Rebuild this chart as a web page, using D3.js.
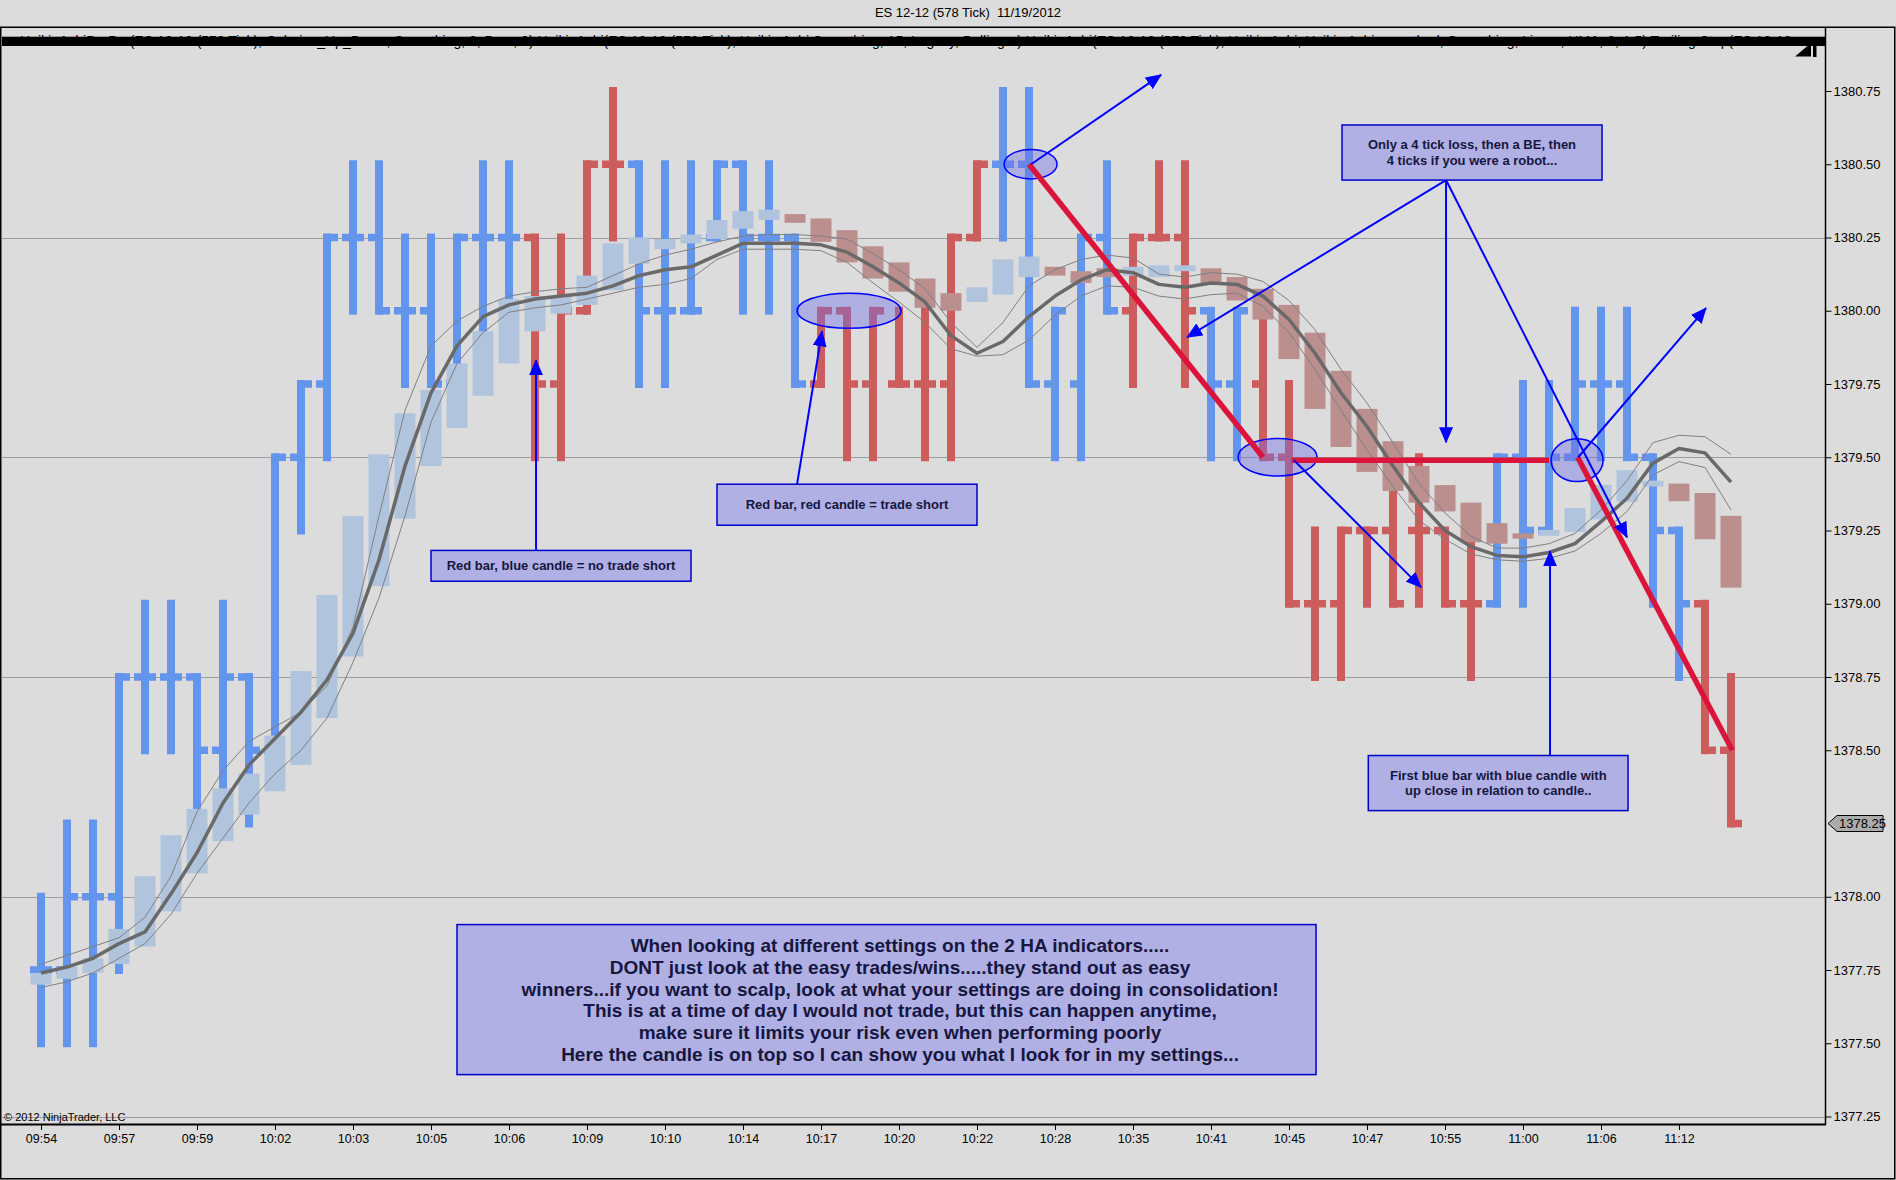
<!DOCTYPE html>
<html>
<head>
<meta charset="utf-8">
<script src="https://cdn.jsdelivr.net/npm/d3@7"></script>
<style>
  body { margin: 0; background: #dcdcdc; }
  svg { display: block; }
  text { font-family: Arial, "Liberation Sans", sans-serif; }
</style>
</head>
<body>
<div id="chart"></div>
<script>
// Dimensions
const WIDTH = 1896;
const HEIGHT = 1180;
const PLOT = { left: 2, top: 28, right: 1825, bottom: 1124 };

// Colours
const BAR_UP = '#6495ed';
const BAR_DOWN = '#cd5c5c';
const CANDLE_UP = '#b0c4de';
const CANDLE_DOWN = '#bc8f8f';
const NOTE_FILL = '#b0b0e4';
const NOTE_STROKE = '#0000cd';
const NOTE_TEXT = '#16163f';

// Chart title
const TITLE = 'ES 12-12 (578 Tick)  11/19/2012';
const INDICATOR_LABEL = 'HeikinAshiBarPro(ES 12-12 (578 Tick), Colorize_Up_Down, Smoothing, 2, Bars, 0) HeikinAshi(ES 12-12 (578 Tick), Heikin Ashi Smoothing, 15, Legacy, Bollinger) HeikinAshi(ES 12-12 (578 Tick), Heikin Ashi, Heikin Ashi smoothed, Smoothing, Linear, HMA, 2, 1.5) Trailing Stop(ES 12-12 (578 Tick))';

// X axis labels, one every third bar
const timeLabels = ['09:54', '09:57', '09:59', '10:02', '10:03', '10:05', '10:06', '10:09', '10:10', '10:14', '10:17',
                    '10:20', '10:22', '10:28', '10:35', '10:41', '10:45', '10:47', '10:55', '11:00', '11:06', '11:12'];
const labelBars = [0, 3, 6, 9, 12, 15, 18, 21, 24, 27, 30, 33, 36, 39, 42, 45, 48, 51, 54, 57, 60, 63];

// Price axis
const priceTicks = [1377.25, 1377.50, 1377.75, 1378.00, 1378.25, 1378.50, 1378.75,
                    1379.00, 1379.25, 1379.50, 1379.75, 1380.00, 1380.25, 1380.50, 1380.75];
const gridPrices = [1377.25, 1378.00, 1378.75, 1379.50, 1380.25];

// HA bars (B = blue, R = red)
const barDir = [
  'B', 'B', 'B', 'B', 'B', 'B', 'B', 'B', 'B', 'B', 'B',
  'B', 'B', 'B', 'B', 'B', 'B', 'B', 'B', 'R', 'R', 'R',
  'R', 'B', 'B', 'B', 'B', 'B', 'B', 'B', 'R', 'R', 'R',
  'R', 'R', 'R', 'R', 'B', 'B', 'B', 'B', 'B', 'R', 'R',
  'R', 'B', 'B', 'R', 'R', 'R', 'R', 'R', 'R', 'R', 'R',
  'R', 'B', 'B', 'B', 'B', 'B', 'B', 'B', 'B', 'R', 'R'
];
const barOpen = [
  1377.75, 1377.75, 1378.00, 1378.00, 1378.75, 1378.75, 1378.75, 1378.50, 1378.75, 1378.50, 1379.50,
  1379.75, 1380.25, 1380.25, 1380.00, 1380.00, 1379.75, 1380.25, 1380.25, 1380.25, 1379.75, 1380.00,
  1380.50, 1380.50, 1380.00, 1380.00, 1380.25, 1380.50, 1380.25, 1380.25, 1379.75, 1380.00, 1379.75,
  1379.75, 1379.75, 1379.75, 1380.25, 1380.50, 1380.50, 1379.75, 1379.75, 1380.25, 1380.00, 1380.25,
  1380.25, 1380.00, 1379.75, 1379.75, 1379.50, 1379.00, 1379.00, 1379.25, 1379.25, 1379.25, 1379.25,
  1379.00, 1379.00, 1379.50, 1379.25, 1379.50, 1379.75, 1379.75, 1379.50, 1379.25, 1379.00, 1378.50
];
const barHigh = [
  1378.00, 1378.25, 1378.25, 1378.75, 1379.00, 1379.00, 1378.75, 1379.00, 1378.75, 1379.50, 1379.75,
  1380.25, 1380.50, 1380.50, 1380.25, 1380.25, 1380.25, 1380.50, 1380.50, 1380.25, 1380.25, 1380.50,
  1380.75, 1380.50, 1380.50, 1380.50, 1380.50, 1380.50, 1380.50, 1380.25, 1380.00, 1380.00, 1380.00,
  1380.00, 1380.00, 1380.25, 1380.50, 1380.75, 1380.75, 1380.00, 1380.25, 1380.50, 1380.25, 1380.50,
  1380.50, 1380.00, 1380.00, 1380.00, 1379.75, 1379.25, 1379.25, 1379.25, 1379.50, 1379.50, 1379.25,
  1379.25, 1379.50, 1379.75, 1379.75, 1380.00, 1380.00, 1380.00, 1379.50, 1379.25, 1379.00, 1378.75
];
const barLow = [
  1377.50, 1377.50, 1377.50, 1377.75, 1378.50, 1378.50, 1378.25, 1378.25, 1378.25, 1378.50, 1379.25,
  1379.50, 1380.00, 1380.00, 1379.75, 1379.75, 1379.75, 1379.75, 1380.00, 1379.50, 1379.50, 1380.00,
  1380.25, 1379.75, 1379.75, 1380.00, 1380.25, 1380.00, 1380.00, 1379.75, 1379.75, 1379.50, 1379.50,
  1379.75, 1379.50, 1379.50, 1380.25, 1380.25, 1379.75, 1379.50, 1379.50, 1380.00, 1379.75, 1380.25,
  1379.75, 1379.50, 1379.50, 1379.50, 1379.00, 1378.75, 1378.75, 1379.00, 1379.00, 1379.00, 1379.00,
  1378.75, 1379.00, 1379.00, 1379.25, 1379.50, 1379.50, 1379.50, 1379.00, 1378.75, 1378.50, 1378.25
];
const barClose = [
  1377.75, 1378.00, 1378.00, 1378.75, 1378.75, 1378.75, 1378.50, 1378.75, 1378.50, 1379.50, 1379.75,
  1380.25, 1380.25, 1380.00, 1380.00, 1379.75, 1380.25, 1380.25, 1380.25, 1379.75, 1380.00, 1380.50,
  1380.50, 1380.00, 1380.00, 1380.00, 1380.50, 1380.25, 1380.25, 1379.75, 1380.00, 1379.75, 1380.00,
  1379.75, 1379.75, 1380.25, 1380.50, 1380.50, 1379.75, 1380.00, 1380.25, 1380.00, 1380.25, 1380.25,
  1380.00, 1379.75, 1380.00, 1379.50, 1379.00, 1379.00, 1379.25, 1379.25, 1379.00, 1379.25, 1379.00,
  1379.00, 1379.50, 1379.25, 1379.50, 1379.75, 1379.75, 1379.50, 1379.25, 1379.00, 1378.50, 1378.25
];

// HA candles
const candleOpen = [
  1377.70, 1377.72, 1377.74, 1377.77, 1377.83, 1377.95, 1378.08, 1378.19, 1378.28, 1378.36, 1378.45,
  1378.61, 1378.82, 1379.06, 1379.29, 1379.47, 1379.60, 1379.71, 1379.82, 1379.93, 1379.99, 1380.02,
  1380.07, 1380.16, 1380.21, 1380.23, 1380.245, 1380.28, 1380.31, 1380.33, 1380.315, 1380.275, 1380.22,
  1380.165, 1380.11, 1380.06, 1380.03, 1380.055, 1380.115, 1380.15, 1380.135, 1380.145, 1380.12, 1380.115,
  1380.135, 1380.145, 1380.115, 1380.075, 1380.02, 1379.925, 1379.795, 1379.665, 1379.555, 1379.47, 1379.405,
  1379.345, 1379.275, 1379.24, 1379.232, 1379.245, 1379.288, 1379.348, 1379.40, 1379.41, 1379.378, 1379.30
];
const candleClose = [
  1377.74, 1377.76, 1377.79, 1377.89, 1378.07, 1378.21, 1378.30, 1378.37, 1378.42, 1378.55, 1378.77,
  1379.03, 1379.30, 1379.51, 1379.65, 1379.73, 1379.82, 1379.93, 1380.04, 1380.05, 1380.05, 1380.12,
  1380.23, 1380.25, 1380.245, 1380.26, 1380.31, 1380.34, 1380.345, 1380.30, 1380.235, 1380.165, 1380.11,
  1380.065, 1380.01, 1380.00, 1380.08, 1380.175, 1380.185, 1380.12, 1380.095, 1380.115, 1380.15, 1380.155,
  1380.155, 1380.095, 1380.035, 1379.97, 1379.835, 1379.665, 1379.535, 1379.45, 1379.385, 1379.345, 1379.315,
  1379.21, 1379.205, 1379.222, 1379.252, 1379.327, 1379.406, 1379.456, 1379.42, 1379.35, 1379.22, 1379.055
];

// Smoothed average with its bands
const maMid = [
  1377.74, 1377.76, 1377.79, 1377.84, 1377.88, 1378.01, 1378.15, 1378.32, 1378.45, 1378.54, 1378.63,
  1378.74, 1378.90, 1379.15, 1379.47, 1379.72, 1379.88, 1379.98, 1380.02, 1380.04, 1380.05, 1380.06,
  1380.085, 1380.12, 1380.14, 1380.15, 1380.19, 1380.23, 1380.23, 1380.23, 1380.225, 1380.20, 1380.15,
  1380.095, 1380.03, 1379.915, 1379.855, 1379.895, 1379.98, 1380.05, 1380.105, 1380.14, 1380.13, 1380.09,
  1380.08, 1380.095, 1380.09, 1380.05, 1379.97, 1379.855, 1379.72, 1379.605, 1379.47, 1379.345, 1379.25,
  1379.195, 1379.165, 1379.16, 1379.175, 1379.205, 1379.28, 1379.36, 1379.48, 1379.53, 1379.515, 1379.415
];
const maUpper = [
  1377.77, 1377.80, 1377.83, 1377.86, 1377.93, 1378.07, 1378.29, 1378.43, 1378.53, 1378.58, 1378.63,
  1378.72, 1378.92, 1379.30, 1379.66, 1379.88, 1379.965, 1380.015, 1380.05, 1380.065, 1380.075, 1380.08,
  1380.12, 1380.16, 1380.19, 1380.21, 1380.235, 1380.255, 1380.26, 1380.26, 1380.255, 1380.245, 1380.195,
  1380.14, 1380.075, 1379.96, 1379.875, 1379.96, 1380.085, 1380.14, 1380.175, 1380.19, 1380.18, 1380.125,
  1380.115, 1380.13, 1380.125, 1380.10, 1380.035, 1379.935, 1379.80, 1379.685, 1379.55, 1379.41, 1379.31,
  1379.23, 1379.19, 1379.19, 1379.205, 1379.24, 1379.32, 1379.42, 1379.55, 1379.575, 1379.57, 1379.51
];
const maLower = [
  1377.69, 1377.71, 1377.74, 1377.79, 1377.84, 1377.94, 1378.08, 1378.20, 1378.32, 1378.42, 1378.50,
  1378.61, 1378.80, 1379.02, 1379.30, 1379.62, 1379.82, 1379.925, 1379.995, 1380.01, 1380.02, 1380.04,
  1380.06, 1380.08, 1380.09, 1380.11, 1380.175, 1380.21, 1380.21, 1380.21, 1380.205, 1380.165, 1380.095,
  1380.03, 1379.96, 1379.87, 1379.845, 1379.85, 1379.90, 1379.985, 1380.05, 1380.085, 1380.08, 1380.05,
  1380.04, 1380.055, 1380.06, 1380.015, 1379.925, 1379.80, 1379.66, 1379.525, 1379.40, 1379.285, 1379.22,
  1379.17, 1379.15, 1379.145, 1379.155, 1379.18, 1379.24, 1379.315, 1379.44, 1379.485, 1379.465, 1379.32
];

// Annotations, in bar index / price
const noteLeft = [15, 26, 50.04, 51.05, 16];
const noteRight = [25, 36, 60.04, 61.04, 49.04];
const noteTop = [1379.182, 1379.408, 1380.634, 1378.482, 1377.905];
const noteBottom = [1379.077, 1379.268, 1380.446, 1378.294, 1377.393];
const noteTextBar = [20, 31, 55.04, 56.05, 33.04];
const noteLines = [
  ['Red bar, blue candle = no trade short'],
  ['Red bar, red candle = trade short'],
  ['Only a 4 tick loss, then a BE, then', '4 ticks if you were a robot...'],
  ['First blue bar with blue candle with', 'up close in relation to candle..'],
  ['When looking at different settings on the 2 HA indicators.....',
   'DONT just look at the easy trades/wins.....they stand out as easy',
   'winners...if you want to scalp, look at what your settings are doing in consolidation!',
   'This is at a time of day I would not trade, but this can happen anytime,',
   'make sure it limits your risk even when performing poorly',
   'Here the candle is on top so I can show you what I look for in my settings...']
];

const arrowFrom = [[19.04, 1379.182], [29.08, 1379.408], [38.08, 1380.50], [54.04, 1380.446], [54.04, 1380.446],
                   [54.04, 1380.446], [48.19, 1379.49], [58.04, 1378.482], [59.12, 1379.50]];
const arrowTo = [[19.04, 1379.831], [30.04, 1379.93], [43.08, 1380.805], [44.08, 1379.91], [54.04, 1379.551],
                 [61.0, 1379.227], [53.08, 1379.056], [58.04, 1379.179], [64.04, 1380.009]];

const tradeFrom = [[38, 1380.50], [48.1, 1379.49], [59.1, 1379.50]];
const tradeTo = [[47, 1379.50], [58, 1379.49], [65.05, 1378.50]];

const ellipseCentre = [[31.08, 1380.00], [38.06, 1380.50], [47.56, 1379.50], [59.08, 1379.49]];
const ellipseHalfBars = [2.0, 1.02, 1.52, 1.0];
const ellipseHalfPrice = [0.06, 0.05, 0.064, 0.073];

// Scales
const x = d3.scaleLinear().domain([0, 65]).range([41, 1731]);
const y = d3.scaleLinear().domain([1377.25, 1380.75]).range([1116.5, 91]);

const svg = d3.select('#chart').append('svg')
    .attr('width', WIDTH)
    .attr('height', HEIGHT);

svg.append('rect')
    .attr('width', WIDTH)
    .attr('height', HEIGHT)
    .attr('fill', '#dcdcdc');

// Title
svg.append('text')
    .attr('x', 968)
    .attr('y', 17)
    .attr('text-anchor', 'middle')
    .attr('font-size', 13)
    .attr('fill', '#000')
    .style('white-space', 'pre')
    .text(TITLE);

const defs = svg.append('defs');
defs.append('clipPath')
    .attr('id', 'plot-clip')
    .append('rect')
    .attr('x', PLOT.left)
    .attr('y', PLOT.top)
    .attr('width', PLOT.right - PLOT.left)
    .attr('height', PLOT.bottom - PLOT.top);
defs.append('clipPath')
    .attr('id', 'label-clip')
    .append('rect')
    .attr('x', PLOT.left)
    .attr('y', PLOT.top)
    .attr('width', 1790 - PLOT.left)
    .attr('height', 30);

const plot = svg.append('g').attr('clip-path', 'url(#plot-clip)');

// Grid lines
plot.selectAll('.grid')
    .data(gridPrices)
    .enter().append('line')
    .attr('class', 'grid')
    .attr('x1', PLOT.left)
    .attr('x2', PLOT.right)
    .attr('y1', d => Math.round(y(d)) + 0.5)
    .attr('y2', d => Math.round(y(d)) + 0.5)
    .attr('stroke', '#9c9c9c')
    .attr('stroke-width', 1);

// Build bar table
const bars = barOpen.map((o, i) => ({
    i: i,
    open: o,
    high: barHigh[i],
    low: barLow[i],
    close: barClose[i],
    dir: barDir[i],
    cOpen: candleOpen[i],
    cClose: candleClose[i]
}));

const barColour = d => d.dir === 'B' ? BAR_UP : BAR_DOWN;

const barG = plot.append('g').attr('class', 'ha-bars');
barG.selectAll('.stem')
    .data(bars)
    .enter().append('line')
    .attr('class', 'stem')
    .attr('x1', d => x(d.i))
    .attr('x2', d => x(d.i))
    .attr('y1', d => y(d.high))
    .attr('y2', d => y(d.low))
    .attr('stroke', barColour)
    .attr('stroke-width', 8)
    .attr('stroke-linecap', 'square');

barG.selectAll('.open-tick')
    .data(bars)
    .enter().append('line')
    .attr('class', 'open-tick')
    .attr('x1', d => x(d.i) - 11)
    .attr('x2', d => x(d.i))
    .attr('y1', d => y(d.open))
    .attr('y2', d => y(d.open))
    .attr('stroke', barColour)
    .attr('stroke-width', 7.5);

barG.selectAll('.close-tick')
    .data(bars)
    .enter().append('line')
    .attr('class', 'close-tick')
    .attr('x1', d => x(d.i))
    .attr('x2', d => x(d.i) + 11)
    .attr('y1', d => y(d.close))
    .attr('y2', d => y(d.close))
    .attr('stroke', barColour)
    .attr('stroke-width', 7.5);

// Candles
plot.append('g').attr('class', 'candles')
    .selectAll('rect')
    .data(bars)
    .enter().append('rect')
    .attr('x', d => x(d.i) - 10.5)
    .attr('width', 21)
    .attr('y', d => y(Math.max(d.cOpen, d.cClose)))
    .attr('height', d => Math.max(3, Math.abs(y(d.cOpen) - y(d.cClose))))
    .attr('fill', d => d.cClose >= d.cOpen ? CANDLE_UP : CANDLE_DOWN);

// Average and bands
const maLine = d3.line()
    .x((d, i) => x(i))
    .y(d => y(d));

[maUpper, maLower].forEach(series => {
    plot.append('path')
        .datum(series)
        .attr('d', maLine)
        .attr('fill', 'none')
        .attr('stroke', '#808080')
        .attr('stroke-width', 1);
});

plot.append('path')
    .datum(maMid)
    .attr('d', maLine)
    .attr('fill', 'none')
    .attr('stroke', '#696969')
    .attr('stroke-width', 3.5)
    .attr('stroke-linejoin', 'round');

// Indicator label strip at the top of the panel
plot.append('text')
    .attr('clip-path', 'url(#label-clip)')
    .attr('x', 20)
    .attr('y', 45.5)
    .attr('font-size', 14)
    .attr('fill', '#000')
    .text(INDICATOR_LABEL);

plot.append('rect')
    .attr('x', PLOT.left)
    .attr('y', 36.7)
    .attr('width', PLOT.right - PLOT.left)
    .attr('height', 9.3)
    .attr('fill', '#000');

plot.append('path')
    .attr('d', 'M1795,56.5 L1811,43 L1811,56.5 Z M1813,42 L1816.5,42 L1816.5,57 L1813,57 Z')
    .attr('fill', '#000');

// Ellipses
plot.selectAll('.zone')
    .data(ellipseCentre)
    .enter().append('ellipse')
    .attr('class', 'zone')
    .attr('cx', d => x(d[0]))
    .attr('cy', d => y(d[1]))
    .attr('rx', (d, k) => x(d[0] + ellipseHalfBars[k]) - x(d[0]))
    .attr('ry', (d, k) => y(d[1] - ellipseHalfPrice[k]) - y(d[1]))
    .attr('fill', 'rgba(110, 110, 230, 0.42)')
    .attr('stroke', '#0000ff')
    .attr('stroke-width', 1.5);

// Trade lines
plot.selectAll('.trade')
    .data(tradeFrom)
    .enter().append('line')
    .attr('class', 'trade')
    .attr('x1', d => x(d[0]))
    .attr('y1', d => y(d[1]))
    .attr('x2', (d, k) => x(tradeTo[k][0]))
    .attr('y2', (d, k) => y(tradeTo[k][1]))
    .attr('stroke', '#dc143c')
    .attr('stroke-width', 5.5);

// Arrows
defs.append('marker')
    .attr('id', 'head')
    .attr('markerUnits', 'userSpaceOnUse')
    .attr('viewBox', '0 0 16 14')
    .attr('refX', 15)
    .attr('refY', 7)
    .attr('markerWidth', 16)
    .attr('markerHeight', 14)
    .attr('orient', 'auto')
    .append('path')
    .attr('d', 'M0,0 L16,7 L0,14 Z')
    .attr('fill', '#0000ff');

plot.selectAll('.arrow')
    .data(arrowFrom)
    .enter().append('line')
    .attr('class', 'arrow')
    .attr('x1', d => x(d[0]))
    .attr('y1', d => y(d[1]))
    .attr('x2', (d, k) => x(arrowTo[k][0]))
    .attr('y2', (d, k) => y(arrowTo[k][1]))
    .attr('stroke', '#0000ff')
    .attr('stroke-width', 2)
    .attr('marker-end', 'url(#head)');

// Note boxes
const notes = noteLines.map((lines, k) => ({
    lines: lines,
    x0: x(noteLeft[k]),
    x1: x(noteRight[k]),
    y0: y(noteTop[k]),
    y1: y(noteBottom[k]),
    tx: x(noteTextBar[k]),
    big: lines.length > 2
}));

const noteG = plot.selectAll('.note')
    .data(notes)
    .enter().append('g')
    .attr('class', 'note');

noteG.append('rect')
    .attr('x', d => d.x0)
    .attr('y', d => d.y0)
    .attr('width', d => d.x1 - d.x0)
    .attr('height', d => d.y1 - d.y0)
    .attr('fill', NOTE_FILL)
    .attr('stroke', NOTE_STROKE)
    .attr('stroke-width', 1.5);

noteG.each(function(d) {
    const fontSize = d.big ? 19 : 13;
    const lineHeight = d.big ? 21.7 : 15.5;
    const mid = (d.y0 + d.y1) / 2;
    const first = mid - (d.lines.length - 1) * lineHeight / 2;
    d3.select(this).selectAll('text')
        .data(d.lines)
        .enter().append('text')
        .attr('x', d.tx)
        .attr('y', (t, j) => first + j * lineHeight)
        .attr('dy', '0.36em')
        .attr('text-anchor', 'middle')
        .attr('font-size', fontSize)
        .attr('font-weight', 'bold')
        .attr('fill', NOTE_TEXT)
        .text(t => t);
});

// Copyright
svg.append('text')
    .attr('x', 4)
    .attr('y', 1121)
    .attr('font-size', 11)
    .attr('fill', '#000')
    .text('\u00a9 2012 NinjaTrader, LLC');

// Axes (the last price marker takes the place of its own tick)
const lastPrice = barClose[barClose.length - 1];

const yAxis = d3.axisRight(y)
    .tickValues(priceTicks.filter(p => p !== lastPrice))
    .tickSize(6)
    .tickPadding(2)
    .tickFormat(d3.format('.2f'));

const yAxisG = svg.append('g')
    .attr('transform', `translate(${PLOT.right + 0.5},0)`)
    .call(yAxis);
yAxisG.select('.domain').remove();
yAxisG.selectAll('text').attr('font-size', 13).attr('font-family', 'Arial, "Liberation Sans", sans-serif');
yAxisG.selectAll('line').attr('stroke', '#000');

const xAxis = d3.axisBottom(x)
    .tickValues(labelBars)
    .tickSize(6)
    .tickPadding(4)
    .tickFormat((d, k) => timeLabels[k]);

const xAxisG = svg.append('g')
    .attr('transform', `translate(0,${PLOT.bottom})`)
    .call(xAxis);
xAxisG.select('.domain').remove();
xAxisG.selectAll('text').attr('font-size', 12.5).attr('font-family', 'Arial, "Liberation Sans", sans-serif');
xAxisG.selectAll('line').attr('stroke', '#000');

// Last price marker
const ly = y(lastPrice);
svg.append('path')
    .attr('d', `M${PLOT.right + 3},${ly} L${PLOT.right + 12},${ly - 8} L${PLOT.right + 58},${ly - 8} L${PLOT.right + 58},${ly + 8} L${PLOT.right + 12},${ly + 8} Z`)
    .attr('fill', '#ababab')
    .attr('stroke', '#000')
    .attr('stroke-width', 1);
svg.append('text')
    .attr('x', PLOT.right + 14)
    .attr('y', ly)
    .attr('dy', '0.36em')
    .attr('font-size', 13)
    .attr('fill', '#000')
    .text(d3.format('.2f')(lastPrice));

// Panel frame
const frame = svg.append('g').attr('stroke', '#000').attr('fill', 'none');
frame.append('rect')
    .attr('x', 0.75)
    .attr('y', 27.25)
    .attr('width', WIDTH - 2)
    .attr('height', HEIGHT - 28.5)
    .attr('stroke-width', 1.5);
frame.append('line')
    .attr('x1', PLOT.right + 0.5).attr('x2', PLOT.right + 0.5)
    .attr('y1', 27).attr('y2', PLOT.bottom + 1)
    .attr('stroke-width', 1.5);
frame.append('line')
    .attr('x1', 0).attr('x2', PLOT.right + 1)
    .attr('y1', PLOT.bottom + 0.5).attr('y2', PLOT.bottom + 0.5)
    .attr('stroke-width', 2);
</script>
</body>
</html>
